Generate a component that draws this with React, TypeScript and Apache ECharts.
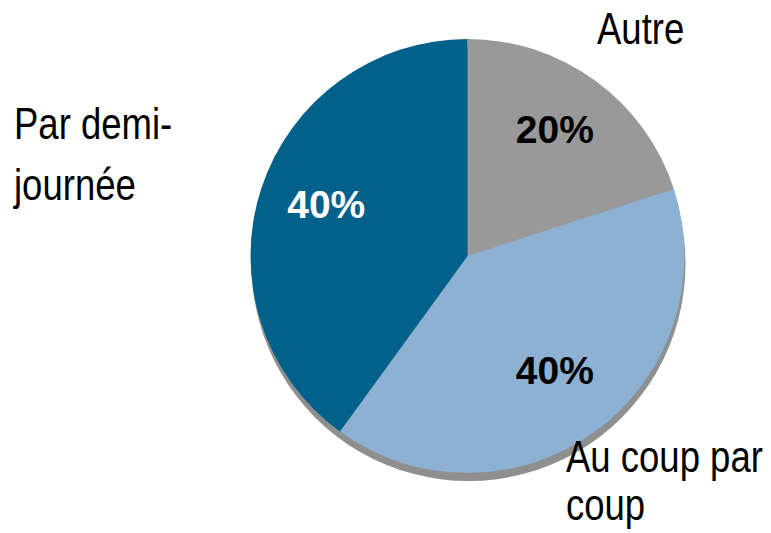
import React, { useEffect, useRef } from "react";
import * as echarts from "echarts";

const categories = ["Autre", "Au coup par coup", "Par demi-journée"];
const values = [20, 40, 40];
const labelTexts = ["Autre", "Au coup par\ncoup", "Par demi-\njournée"];
const sliceColors = ["#999999", "#8DB1D3", "#02618A"];
const pctColors = ["#000000", "#000000", "#FFFFFF"];

const FONT = "'Liberation Sans', Arial, sans-serif";

// name label placement (layout only): top-left of text block and line height
const namePos = [
  { x: 597, y: 7, lh: 44 },
  { x: 566, y: 433, lh: 48 },
  { x: 14, y: 93, lh: 61 },
];

export default function App() {
  const ref = useRef<HTMLDivElement>(null);
  useEffect(() => {
    if (!ref.current) return;
    const chart = echarts.init(ref.current, undefined, { renderer: "svg" });
    const cx = 467.5;
    const cy = 256;
    const r = 217;
    chart.setOption({
      animation: false,
      backgroundColor: "#FFFFFF",
      graphic: [
        {
          type: "circle",
          z: 0,
          shape: { cx: cx + 1, cy: cy + 8, r: r },
          style: { fill: "#8F8F8F" },
          silent: true,
        },
        ...labelTexts.map((t, i) => ({
          type: "text",
          z: 10,
          x: namePos[i].x,
          y: namePos[i].y,
          scaleX: 0.83,
          silent: true,
          style: {
            text: t,
            fontFamily: FONT,
            fontSize: 44,
            lineHeight: namePos[i].lh,
            fill: "#000000",
            align: "left",
            verticalAlign: "top",
          },
        })),
      ],
      series: [
        {
          type: "pie",
          z: 2,
          center: [cx, cy],
          radius: [0, r],
          startAngle: 90,
          clockwise: true,
          avoidLabelOverlap: false,
          silent: true,
          itemStyle: { borderWidth: 0 },
          label: { show: false },
          labelLine: { show: false },
          data: categories.map((name, i) => ({
            name,
            value: values[i],
            itemStyle: { color: sliceColors[i] },
          })),
        },
        {
          type: "pie",
          z: 3,
          center: [cx, cy],
          radius: [74, r],
          startAngle: 90,
          clockwise: true,
          silent: true,
          avoidLabelOverlap: false,
          itemStyle: { color: "rgba(0,0,0,0)", borderWidth: 0 },
          label: {
            show: true,
            position: "inside",
            fontFamily: FONT,
            fontSize: 39,
            fontWeight: "bold",
            offset: [0, -6],
            formatter: "{d}%",
          },
          labelLine: { show: false },
          data: categories.map((name, i) => ({
            name,
            value: values[i],
            label: { color: pctColors[i] },
          })),
        },
      ],
    });
    return () => chart.dispose();
  }, []);
  return (
    <div
      ref={ref}
      style={{ position: "fixed", left: 0, top: 0, width: 771, height: 533 }}
    />
  );
}
